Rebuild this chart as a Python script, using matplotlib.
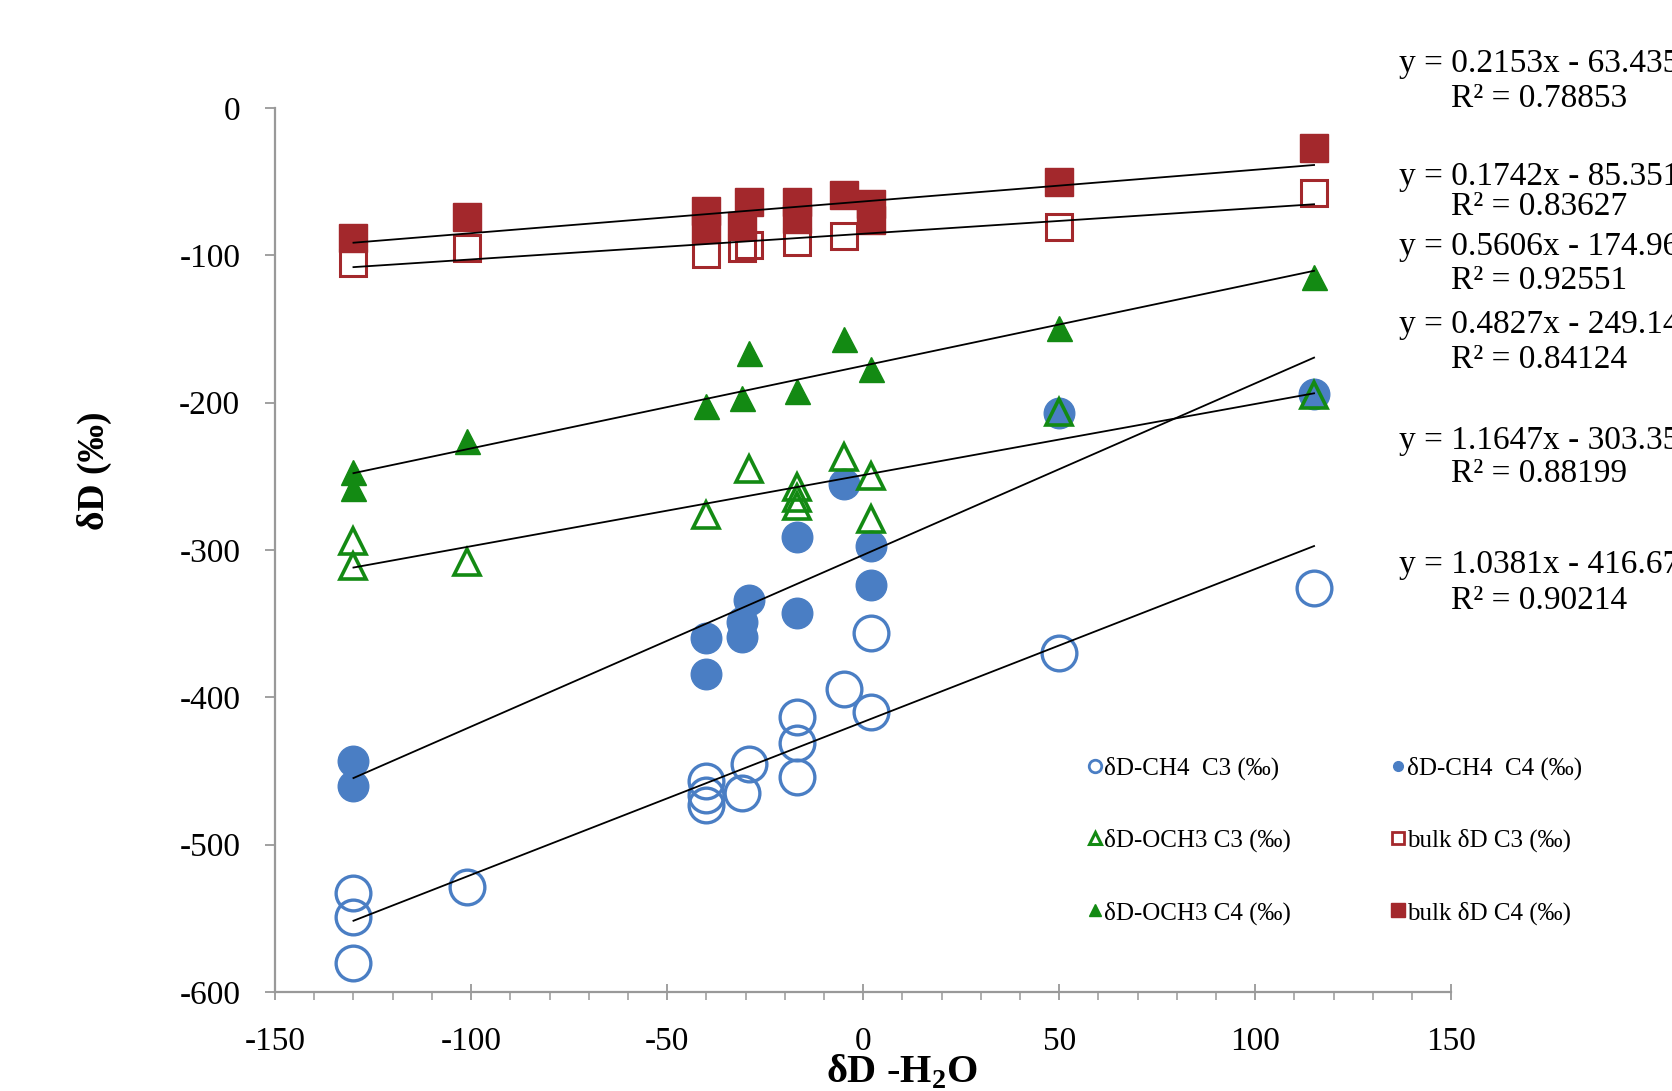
import numpy as np
import matplotlib
matplotlib.use("Agg")
import matplotlib.pyplot as plt
from matplotlib.lines import Line2D
from matplotlib.ticker import MultipleLocator

plt.rcParams['font.family'] = ['Liberation Serif', 'DejaVu Serif']
plt.rcParams['mathtext.fontset'] = 'custom'
plt.rcParams['mathtext.rm'] = 'Liberation Serif'
plt.rcParams['mathtext.bf'] = 'Liberation Serif:bold'
plt.rcParams['axes.unicode_minus'] = False

# dD-H2O (x) and dD values (y)
ch4_c3_x = [-130, -130, -130, -101, -40, -40, -40, -31, -29, -17, -17, -17, -5, 2, 2, 50, 115]
ch4_c3_y = [-533, -549, -580, -529, -457, -466, -473, -465, -445, -413, -431, -454, -394, -356, -410, -370, -326]

ch4_c4_x = [-130, -130, -40, -40, -31, -31, -29, -17, -17, -5, 2, 2, 50, 115]
ch4_c4_y = [-443, -460, -360, -384, -349, -359, -334, -291, -343, -255, -297, -324, -207, -194]

och3_c3_x = [-130, -130, -101, -40, -29, -17, -17, -17, -5, 2, 2, 50, 115]
och3_c3_y = [-294, -311, -308, -276, -245, -257, -265, -270, -237, -250, -279, -206, -195]

och3_c4_x = [-130, -130, -101, -40, -31, -29, -17, -5, 2, 50, 115]
och3_c4_y = [-247, -258, -226, -202, -197, -166, -192, -157, -177, -149, -115]

bulk_c3_x = [-130, -101, -40, -31, -29, -17, -5, 50, 115]
bulk_c3_y = [-105, -95, -99, -95, -93, -91, -87, -81, -58]

bulk_c4_x = [-130, -101, -40, -40, -31, -29, -17, -17, -5, 2, 2, 50, 115]
bulk_c4_y = [-88, -74, -70, -82, -80, -64, -64, -75, -59, -65, -76, -50, -27]

# trendline coefficients (slope, intercept) and R2 from the chart
fit_slope = [0.2153, 0.1742, 0.5606, 0.4827, 1.1647, 1.0381]
fit_icpt = [-63.435, -85.351, -174.96, -249.14, -303.35, -416.67]
fit_r2 = ["0.78853", "0.83627", "0.92551", "0.84124", "0.88199", "0.90214"]
fit_xrange = (-130, 115)

blue = '#4a7ec4'
green = '#138a13'
red = '#a3282c'

fig = plt.figure(figsize=(16.72, 10.91), dpi=100)
ax = fig.add_axes([0.1645, 0.0907, 0.7035, 0.8103])

ax.plot(ch4_c3_x, ch4_c3_y, 'o', ls='none', ms=25, mfc='none', mec=blue, mew=2.4, zorder=2)
ax.plot(ch4_c4_x, ch4_c4_y, 'o', ls='none', ms=22, mfc=blue, mec=blue, zorder=2)
ax.plot(och3_c3_x, och3_c3_y, '^', ls='none', ms=19, mfc='none', mec=green, mew=2.6, zorder=3)
ax.plot(och3_c4_x, och3_c4_y, '^', ls='none', ms=18, mfc=green, mec=green, zorder=3)
ax.plot(bulk_c3_x, bulk_c3_y, 's', ls='none', ms=19, mfc='none', mec=red, mew=2.2, zorder=3)
ax.plot(bulk_c4_x, bulk_c4_y, 's', ls='none', ms=20, mfc=red, mec=red, zorder=3)

xx = np.array(fit_xrange)
for m, b in zip(fit_slope, fit_icpt):
    ax.plot(xx, m * xx + b, color='black', lw=1.3, zorder=5)

ax.set_xlim(-150, 150)
ax.set_ylim(-600, 0)
ax.xaxis.set_major_locator(MultipleLocator(50))
ax.xaxis.set_minor_locator(MultipleLocator(10))
ax.yaxis.set_major_locator(MultipleLocator(100))
for s in ['top', 'right']:
    ax.spines[s].set_visible(False)
for s in ['left', 'bottom']:
    ax.spines[s].set_color('#999999')
    ax.spines[s].set_linewidth(1.6)
ax.tick_params(axis='x', which='major', direction='inout', length=12, width=1.3,
               color='#999999', labelsize=24, pad=19)
ax.tick_params(axis='x', which='minor', direction='out', length=6, width=1.1, color='#999999')
ax.tick_params(axis='y', which='major', direction='out', length=7, width=1.3,
               color='#999999', labelsize=24, pad=18)

ax.set_xlabel(r'δD -H$_\mathbf{2}$O', fontsize=29, fontweight='bold')
ax.xaxis.set_label_coords(0.533, -0.069)
ax.set_ylabel('δD (‰)', fontsize=27, fontweight='bold')
ax.yaxis.set_label_coords(-0.139, 0.59)

# legend
handles = [
    Line2D([], [], marker='o', ls='none', ms=9, mfc='none', mec=blue, mew=2),
    Line2D([], [], marker='^', ls='none', ms=9, mfc='none', mec=green, mew=2.2),
    Line2D([], [], marker='^', ls='none', ms=8, mfc=green, mec=green),
    Line2D([], [], marker='o', ls='none', ms=7, mfc=blue, mec=blue),
    Line2D([], [], marker='s', ls='none', ms=9, mfc='none', mec=red, mew=2),
    Line2D([], [], marker='s', ls='none', ms=10, mfc=red, mec=red),
]
labels = ['δD-CH4  C3 (‰)', 'δD-OCH3 C3 (‰)', 'δD-OCH3 C4 (‰)',
          'δD-CH4  C4 (‰)', 'bulk δD C3 (‰)', 'bulk δD C4 (‰)']
fig.legend(handles, labels, ncol=2, loc='upper left', bbox_to_anchor=(0.637, 0.327),
           frameon=False, fontsize=18, handlelength=0.6, handletextpad=0.05,
           labelspacing=1.95, columnspacing=4.0)

# trendline equations, right of the plot
eq_y = [60, 166, 231, 305, 413, 530]
r2_y = [93, 194, 263, 337, 444, 563]
for m, b, r2, ey, ry in zip(fit_slope, fit_icpt, fit_r2, eq_y, r2_y):
    sign = '-' if b < 0 else '+'
    fig.text(0.9205, 1 - ey * 1.0663 / 1091, f'y = {m:.4f}x {sign} {abs(b):g}',
             ha='center', va='center', fontsize=24)
    fig.text(0.9205, 1 - ry * 1.0663 / 1091, f'R² = {r2}',
             ha='center', va='center', fontsize=24)

fig.savefig('out.png', dpi=100)
